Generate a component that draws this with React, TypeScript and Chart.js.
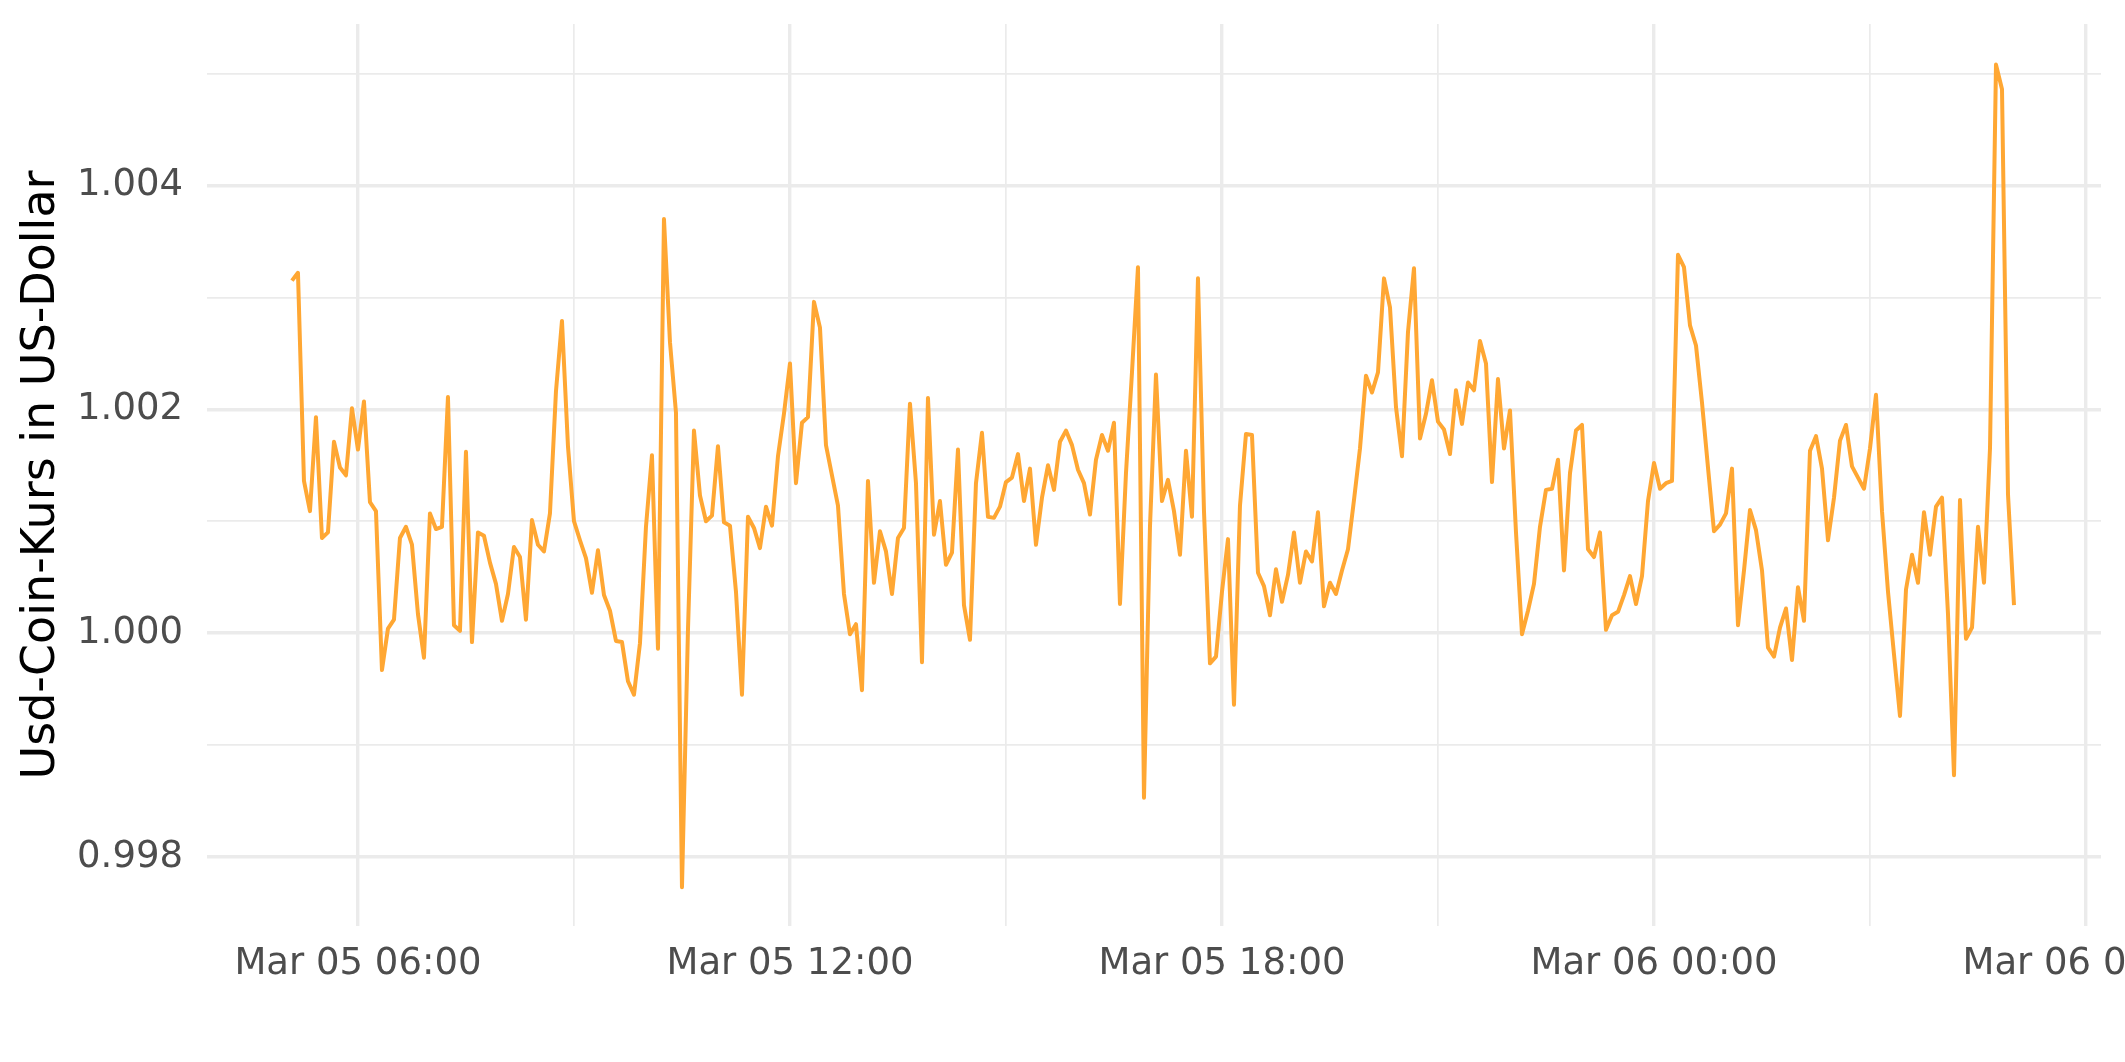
import React, { useEffect, useRef } from "react";
import { Chart, registerables } from "chart.js";

Chart.register(...registerables);

// ---- data (USD Coin price, 5-minute steps from Mar 05 05:05) ----
const startMinute = 305; // minutes after Mar 05 00:00
const stepMinutes = 5;

const usdcPrice: number[] = [
  1.00315, 1.00322, 1.00136, 1.00109, 1.00193, 1.00085, 1.0009, 1.00171, 1.00148, 1.00141,
  1.00201, 1.00164, 1.00207, 1.00117, 1.00109, 0.99967, 1.00004, 1.00012, 1.00085, 1.00095,
  1.00079, 1.00017, 0.99978, 1.00107, 1.00093, 1.00095, 1.00211, 1.00007, 1.00002, 1.00162,
  0.99992, 1.0009, 1.00087,
  1.00063, 1.00044, 1.00011, 1.00035, 1.00077, 1.00068, 1.00012, 1.00101, 1.00079, 1.00073,
  1.00107, 1.00216, 1.00279, 1.00167, 1.001, 1.00083, 1.00067, 1.00036, 1.00074, 1.00034,
  1.0002, 0.99993, 0.99992, 0.99957, 0.99945, 0.99991, 1.00095, 1.00159, 0.99986, 1.0037,
  1.0026, 1.00197,
  0.99773, 1.00003, 1.00181, 1.00123, 1.001, 1.00105, 1.00167, 1.00099, 1.00096, 1.00037,
  0.99945, 1.00104, 1.00094, 1.00076, 1.00113, 1.00096, 1.00158, 1.00196, 1.00241, 1.00134,
  1.00188, 1.00193, 1.00296, 1.00273, 1.00168, 1.00141, 1.00114, 1.00035, 0.99999, 1.00008,
  0.99949, 1.00136,
  1.00045, 1.00091, 1.00073, 1.00035, 1.00085, 1.00094, 1.00205, 1.00134, 0.99974, 1.0021,
  1.00088, 1.00118, 1.00061, 1.00072, 1.00164, 1.00025, 0.99994, 1.00134, 1.00179, 1.00104,
  1.00103, 1.00113, 1.00135, 1.00139, 1.0016, 1.00118, 1.00147, 1.00079, 1.00121, 1.0015,
  1.00128, 1.00171,
  1.00181, 1.00168, 1.00146, 1.00134, 1.00106, 1.00155, 1.00177, 1.00163, 1.00188, 1.00026,
  1.00143, 1.00233, 1.00327, 0.99853, 1.00095, 1.00231, 1.00118, 1.00137, 1.00109, 1.0007,
  1.00163, 1.00104, 1.00317, 1.00109, 0.99973, 0.99979, 1.00037, 1.00084, 0.99936, 1.00114,
  1.00178, 1.00177,
  1.00054, 1.00042, 1.00016, 1.00057, 1.00028, 1.00052, 1.0009, 1.00045, 1.00073, 1.00064,
  1.00108, 1.00024, 1.00045, 1.00035, 1.00056, 1.00075, 1.00119, 1.00165, 1.0023, 1.00215,
  1.00233, 1.00317, 1.00291, 1.00202, 1.00158, 1.00269, 1.00326, 1.00174, 1.00196, 1.00226,
  1.00189, 1.00182,
  1.0016, 1.00217, 1.00187, 1.00224, 1.00217, 1.00261, 1.00241, 1.00135, 1.00227, 1.00165,
  1.00199, 1.0009, 0.99999, 1.0002, 1.00044, 1.00095, 1.00128, 1.00129, 1.00155, 1.00056,
  1.00143, 1.00181, 1.00186, 1.00075, 1.00068, 1.0009, 1.00003, 1.00016, 1.00019, 1.00034,
  1.00051, 1.00026,
  1.00051, 1.00118, 1.00152, 1.00129, 1.00134, 1.00136, 1.00338, 1.00327, 1.00275, 1.00257,
  1.00206, 1.00148, 1.00091, 1.00097, 1.00107, 1.00147, 1.00007, 1.00056, 1.0011, 1.00092,
  1.00056, 0.99987, 0.99979, 1.00005, 1.00022, 0.99976, 1.00041, 1.00011, 1.00163, 1.00176,
  1.00147, 1.00083,
  1.00121, 1.00172, 1.00186, 1.00149, 1.00139, 1.00129, 1.00165, 1.00213, 1.00109, 1.00037,
  0.99981, 0.99926, 1.00039, 1.0007, 1.00045, 1.00108, 1.0007, 1.00113, 1.00121, 1.00017,
  0.99873, 1.00119, 0.99995, 1.00005, 1.00095, 1.00045, 1.00165, 1.00508, 1.00486, 1.00124,
  1.00025,
];

// axis ticks
const xMajorMinutes = [360, 720, 1080, 1440, 1800];
const xMinorMinutes = [540, 900, 1260, 1620];
const yMajorTicks = [0.998, 1.0, 1.002, 1.004];
const yMinorTicks = [0.999, 1.001, 1.003, 1.005];

const xRange = [234.2, 1812.5];
const yRange = [0.997383, 1.005443];

const FONT = "'DejaVu Sans', sans-serif";
const LINE_COLOR = "#FFA733";
const GRID_COLOR = "#EBEBEB";
const TEXT_COLOR = "#4D4D4D";

const pad2 = (n: number) => String(n).padStart(2, "0");
const formatMinute = (m: number) => {
  const day = 5 + Math.floor(m / 1440);
  const mm = Math.round(m) % 1440;
  return `Mar ${pad2(day)} ${pad2(Math.floor(mm / 60))}:${pad2(mm % 60)}`;
};
const isMajorX = (v: number) => xMajorMinutes.some((t) => Math.abs(t - v) < 0.5);
const isMajorY = (v: number) => yMajorTicks.some((t) => Math.abs(t - v) < 1e-7);

export default function App() {
  const canvasRef = useRef<HTMLCanvasElement | null>(null);

  useEffect(() => {
    if (!canvasRef.current) return;
    const points = usdcPrice.map((v, i) => ({ x: startMinute + i * stepMinutes, y: v }));
    const chart = new Chart(canvasRef.current, {
      type: "line",
      data: {
        datasets: [
          {
            data: points,
            borderColor: LINE_COLOR,
            borderWidth: 4,
            pointRadius: 0,
            tension: 0,
            fill: false,
            borderJoinStyle: "round",
          },
        ],
      },
      options: {
        animation: false,
        responsive: true,
        maintainAspectRatio: false,
        devicePixelRatio: 1,
        layout: { padding: { left: 0, top: 24, right: 24, bottom: 0 } },
        plugins: { legend: { display: false }, tooltip: { enabled: false } },
        scales: {
          x: {
            type: "linear",
            min: xRange[0],
            max: xRange[1],
            afterBuildTicks: (scale: any) => {
              scale.ticks = [...xMajorMinutes, ...xMinorMinutes]
                .sort((a, b) => a - b)
                .map((v) => ({ value: v }));
            },
            ticks: {
              autoSkip: false,
              maxRotation: 0,
              minRotation: 0,
              padding: 16,
              color: TEXT_COLOR,
              font: { family: FONT, size: 37 },
              callback: (v: any) => (isMajorX(Number(v)) ? formatMinute(Number(v)) : ""),
            },
            grid: {
              color: GRID_COLOR,
              drawTicks: false,
              lineWidth: (ctx: any) => (ctx.tick && isMajorX(ctx.tick.value) ? 3.4 : 1.7),
            },
            border: { display: false },
            afterFit: (scale: any) => {
              scale.height = 136;
              scale.paddingLeft = 0;
              scale.paddingRight = 0;
            },
          },
          y: {
            type: "linear",
            min: yRange[0],
            max: yRange[1],
            afterBuildTicks: (scale: any) => {
              scale.ticks = [...yMajorTicks, ...yMinorTicks]
                .sort((a, b) => a - b)
                .map((v) => ({ value: v }));
            },
            ticks: {
              autoSkip: false,
              padding: 24,
              color: TEXT_COLOR,
              font: { family: FONT, size: 37 },
              callback: (v: any) => (isMajorY(Number(v)) ? Number(v).toFixed(3) : ""),
            },
            grid: {
              color: GRID_COLOR,
              drawTicks: false,
              lineWidth: (ctx: any) => (ctx.tick && isMajorY(ctx.tick.value) ? 3.4 : 1.7),
            },
            border: { display: false },
            title: {
              display: true,
              text: "Usd-Coin-Kurs in US-Dollar",
              color: "#000000",
              font: { family: FONT, size: 46 },
              padding: { top: 14.5, bottom: 0 },
            },
            afterFit: (scale: any) => {
              scale.width = 207;
              scale.paddingTop = 0;
              scale.paddingBottom = 0;
            },
          },
        },
      },
    });
    return () => chart.destroy();
  }, []);

  return (
    <div
      style={{
        position: "absolute",
        left: 0,
        top: 0,
        width: 2125,
        height: 1062,
        background: "#ffffff",
      }}
    >
      <canvas ref={canvasRef} />
    </div>
  );
}
